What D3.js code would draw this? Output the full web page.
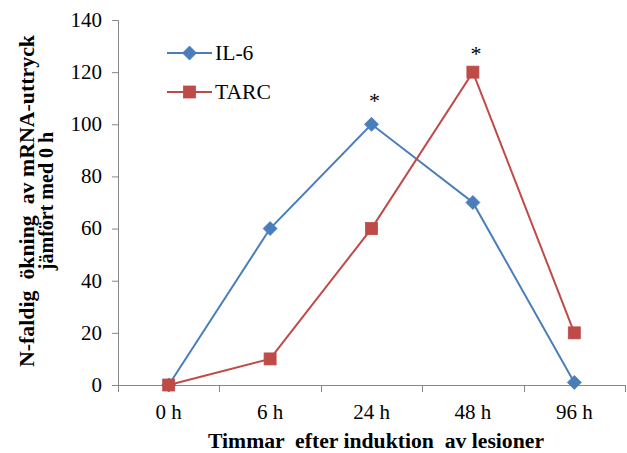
<!DOCTYPE html>
<html><head><meta charset="utf-8">
<script src="https://cdn.jsdelivr.net/npm/d3@7"></script>
<style>body{margin:0;background:#fff}svg{display:block}</style>
</head><body>
<script>
const categories = ["0 h", "6 h", "24 h", "48 h", "96 h"];
const il6 = [0, 60, 100, 70, 1];
const tarc = [0, 10, 60, 120, 20];
const yTicks = [0, 20, 40, 60, 80, 100, 120, 140];
const seriesNames = ["IL-6", "TARC"];
const asteriskCats = ["24 h", "48 h"];
const asteriskValues = [111, 129];

const W = 627, H = 453;
const m = {left: 118, right: 2, top: 20, bottom: 68};
const svg = d3.select("body").append("svg").attr("width", W).attr("height", H);
const font = "Liberation Serif";

const x = d3.scaleBand().domain(categories).range([m.left, W - m.right]).padding(0);
const y = d3.scaleLinear().domain([0, 140]).range([H - m.bottom, m.top]);
const axisColor = "#868686";

function stretch(sel, k) {
  sel.each(function () {
    const L = this.getComputedTextLength();
    d3.select(this).attr("textLength", L * k).attr("lengthAdjust", "spacingAndGlyphs");
  });
}

// Y axis
const ya = svg.append("g").attr("transform", `translate(${m.left},0)`)
  .call(d3.axisLeft(y).tickValues(yTicks).tickSize(6).tickPadding(10));
ya.attr("font-family", null).attr("font-size", null);
ya.select(".domain").attr("stroke", axisColor);
ya.selectAll(".tick line").attr("stroke", axisColor);
ya.selectAll(".tick text").style("font-family", font).style("font-size", "20px").attr("fill", "#000");
stretch(ya.selectAll(".tick text"), 1.05);

// X axis
const xa = svg.append("g").attr("transform", `translate(0,${y(0)})`)
  .call(d3.axisBottom(x).tickSize(0).tickPadding(20));
xa.attr("font-family", null).attr("font-size", null);
xa.select(".domain").attr("stroke", axisColor).attr("d", `M${m.left},0.5H${W - m.right}`);
xa.selectAll(".tick text").style("font-family", font).style("font-size", "20px").attr("fill", "#000");
stretch(xa.selectAll(".tick text"), 1.05);
const bounds = categories.map(c => x(c)).concat([x(categories[categories.length-1]) + x.bandwidth()]);
xa.selectAll(".bt").data(bounds).enter().append("line")
  .attr("x1", d => Math.round(d) + 0.5).attr("x2", d => Math.round(d) + 0.5)
  .attr("y1", 0).attr("y2", 7).attr("stroke", axisColor);

const cx = c => x(c) + x.bandwidth() / 2;
const series = [
  {name: seriesNames[0], values: il6, color: "#4a7ebb", shape: "diamond"},
  {name: seriesNames[1], values: tarc, color: "#be4b48", shape: "square"}
];
const line = d3.line().x((d, i) => cx(categories[i])).y(d => y(d));

function marker(g, shape, color, px, py) {
  if (shape === "diamond") {
    g.append("path").attr("d", `M${px},${py-7}L${px+7},${py}L${px},${py+7}L${px-7},${py}Z`)
      .attr("fill", color).attr("stroke", color).attr("stroke-width", 0.8);
  } else {
    g.append("rect").attr("x", px - 6).attr("y", py - 6).attr("width", 12).attr("height", 12)
      .attr("fill", color).attr("stroke", color).attr("stroke-width", 0.8);
  }
}

series.forEach(s => {
  svg.append("path").datum(s.values).attr("d", line)
    .attr("fill", "none").attr("stroke", s.color).attr("stroke-width", 2);
  const g = svg.append("g");
  s.values.forEach((v, i) => marker(g, s.shape, s.color, cx(categories[i]), y(v)));
});

// asterisks
asteriskCats.forEach((c, k) => {
  svg.append("text").attr("x", cx(c) + 3).attr("y", y(asteriskValues[k]) + 12)
    .attr("text-anchor", "middle").style("font-family", font).style("font-size", "22px")
    .text("*");
});

// legend
const lg = svg.append("g");
series.forEach((s, i) => {
  const ly = 53 + i * 39;
  lg.append("line").attr("x1", 167).attr("x2", 212).attr("y1", ly).attr("y2", ly)
    .attr("stroke", s.color).attr("stroke-width", 2);
  marker(lg, s.shape, s.color, 189.5, ly);
  lg.append("text").attr("x", 215).attr("y", ly + 7).style("font-family", font)
    .style("font-size", "20px").text(s.name);
});
stretch(lg.selectAll("text"), 1.08);

// axis titles
const xt = svg.append("text").attr("x", 376).attr("y", 448).attr("text-anchor", "middle")
  .style("font-family", font).style("font-size", "20px").style("font-weight", "bold")
  .style("white-space", "pre")
  .text("Timmar  efter induktion  av lesioner");
xt.attr("textLength", 336).attr("lengthAdjust", "spacingAndGlyphs");
const yt = svg.append("text").attr("transform", "translate(0,201) rotate(-90)")
  .attr("text-anchor", "middle").style("font-family", font).style("font-size", "20px")
  .style("font-weight", "bold").style("white-space", "pre");
yt.append("tspan").attr("x", 0).attr("y", 34).text("N-faldig  ökning  av mRNA-uttryck")
  .attr("textLength", 332).attr("lengthAdjust", "spacingAndGlyphs");
yt.append("tspan").attr("x", 0).attr("y", 53).text("jämfört med 0 h");
</script>
</body></html>
